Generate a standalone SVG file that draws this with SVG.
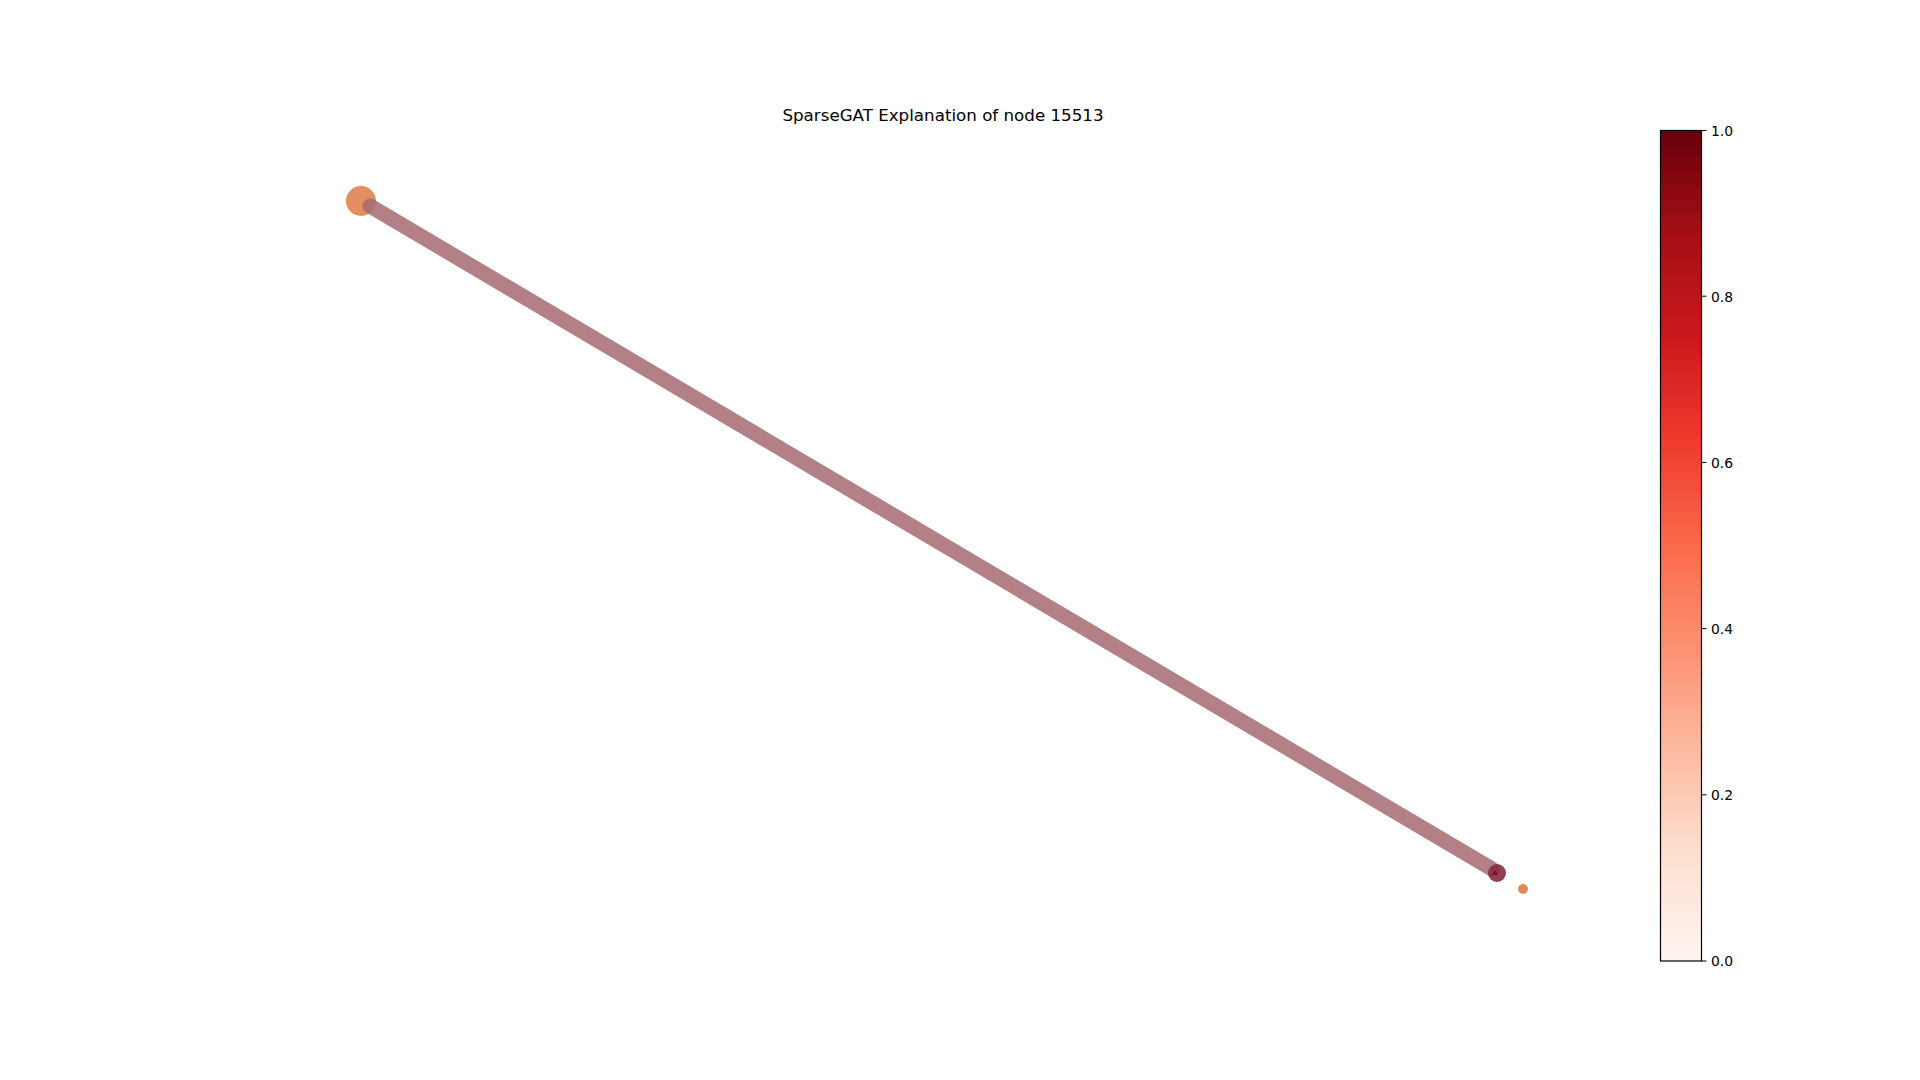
<svg xmlns="http://www.w3.org/2000/svg" width="1920" height="1080" viewBox="0 0 1920 1080">
<defs>
<linearGradient id="reds" x1="0" y1="1" x2="0" y2="0">
<stop offset="0" stop-color="#fff5f0"/>
<stop offset="0.125" stop-color="#fee0d2"/>
<stop offset="0.25" stop-color="#fcbba1"/>
<stop offset="0.375" stop-color="#fc9272"/>
<stop offset="0.5" stop-color="#fb6a4a"/>
<stop offset="0.625" stop-color="#ef3b2c"/>
<stop offset="0.75" stop-color="#cb181d"/>
<stop offset="0.875" stop-color="#a50f15"/>
<stop offset="1" stop-color="#67000d"/>
</linearGradient>
<style>
text{font-family:"DejaVu Sans",sans-serif;fill:#000}
.tick{font-size:13.9px}
.tk{stroke:#000;stroke-width:1}
</style>
</defs>
<rect width="1920" height="1080" fill="#fff"/>
<text x="943" y="121" text-anchor="middle" font-size="16.7">SparseGAT Explanation of node 15513</text>
<g id="nodes">
<g id="node-a"><circle cx="361" cy="201" r="15" fill="#e08a58" fill-opacity="0.95"/></g>
<g id="node-c"><circle cx="1523" cy="889" r="5" fill="#e08a58"/></g>
</g>
<g id="edges">
<line x1="370" y1="206" x2="1492" y2="869" stroke="#a56a70" stroke-opacity="0.85" stroke-width="15" stroke-linecap="round"/>
</g>
<g id="node-b">
<circle cx="1497" cy="873" r="9" fill="#862a3c" fill-opacity="0.9"/>
<polygon points="1495,870 1498,875 1492,875" fill="#6b1828"/>
</g>
<g id="colorbar">
<rect x="1660.5" y="130.5" width="41" height="830.5" fill="url(#reds)" stroke="#000" stroke-width="1.2"/>
<line class="tk" x1="1701.5" y1="961" x2="1706.5" y2="961"/>
<line class="tk" x1="1701.5" y1="794.8" x2="1706.5" y2="794.8"/>
<line class="tk" x1="1701.5" y1="628.6" x2="1706.5" y2="628.6"/>
<line class="tk" x1="1701.5" y1="462.4" x2="1706.5" y2="462.4"/>
<line class="tk" x1="1701.5" y1="296.2" x2="1706.5" y2="296.2"/>
<line class="tk" x1="1701.5" y1="130.5" x2="1706.5" y2="130.5"/>
<text class="tick" x="1711" y="966">0.0</text>
<text class="tick" x="1711" y="800">0.2</text>
<text class="tick" x="1711" y="634">0.4</text>
<text class="tick" x="1711" y="467.5">0.6</text>
<text class="tick" x="1711" y="301.5">0.8</text>
<text class="tick" x="1711" y="135.5">1.0</text>
</g>
</svg>
